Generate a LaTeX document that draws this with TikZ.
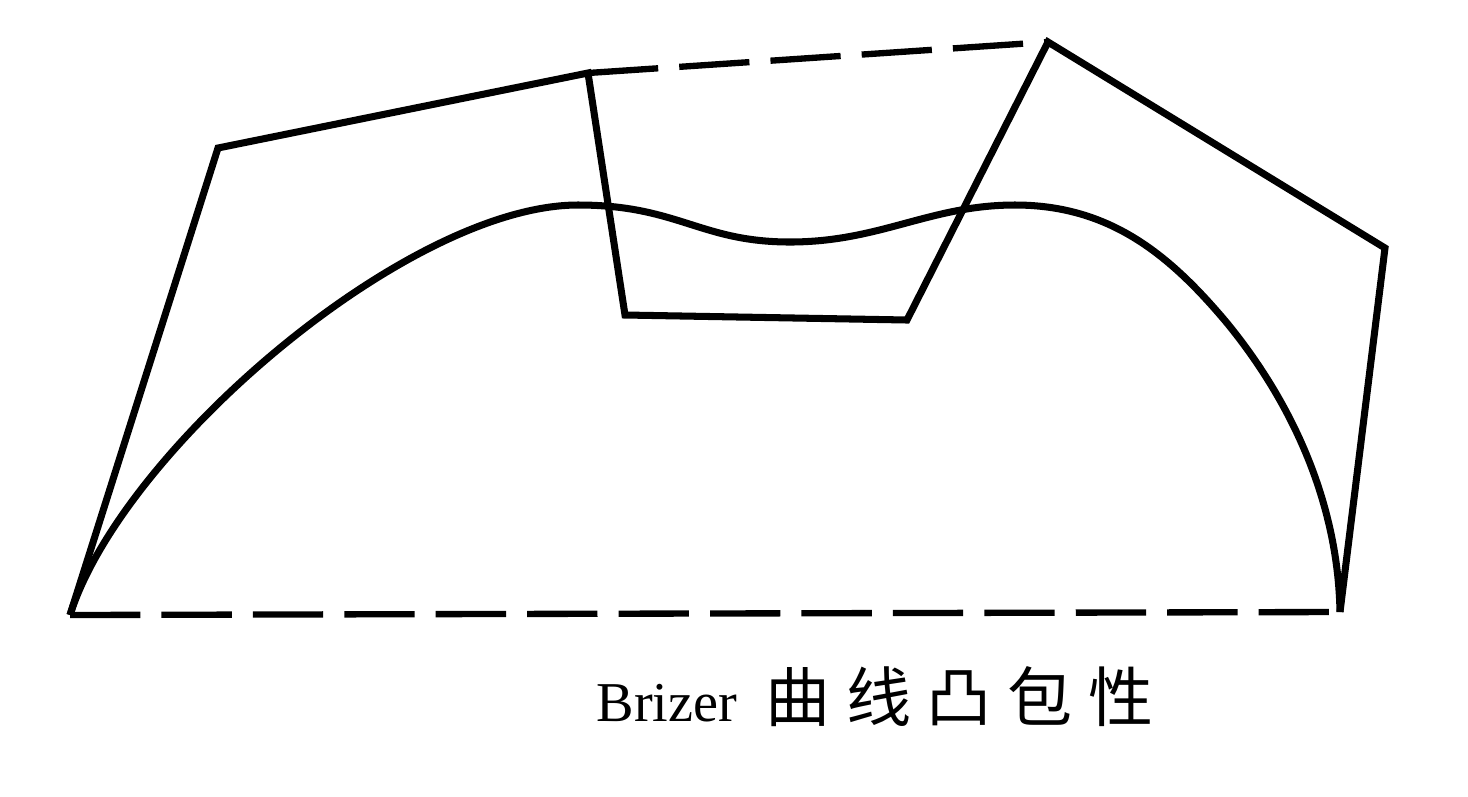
\documentclass[tikz,border=0pt]{standalone}
\usepackage{fontspec}
\setmainfont{Liberation Serif}
\newfontfamily\cjk[LetterSpace=24]{Noto Sans CJK SC}
\begin{document}
\begin{tikzpicture}[x=0.01cm,y=-0.01cm,
  poly/.style={line width=2pt, line join=miter},
  hull/.style={line width=1.8pt, dash pattern=on 20pt off 6pt},
  curve/.style={line width=2pt}]
\useasboundingbox (0,0) rectangle (1468,796);
\coordinate (P0) at (70,615);
\coordinate (P1) at (218,148);
\coordinate (P2) at (588,73);
\coordinate (P3) at (625,315);
\coordinate (P4) at (907,320);
\coordinate (P5) at (1048,42);
\coordinate (P6) at (1385,248);
\coordinate (P7) at (1340,612);
\coordinate (A) at (578,205);
\coordinate (B) at (790,242);
\coordinate (C) at (1015,205);
\coordinate (D) at (1227,323);
\draw[poly] (P0) -- (P1) -- (P2) -- (P3) -- (P4) -- (P5) -- (P6) -- (P7);
\draw[hull] (P2) -- (P5);
\draw[hull] (P0) -- (P7);
\draw[curve] (P0) .. controls (122,450) and (408,205) .. (A)
  .. controls (678,205) and (700,242) .. (B)
  .. controls (880,242) and (930,205) .. (C)
  .. controls (1110,205) and (1170,255) .. (D)
  .. controls (1290,400) and (1338,500) .. (P7);
\node[anchor=base west, inner sep=0pt, font=\fontsize{16}{18}\selectfont] (cap) at (596,721)
  {Brizer\hspace{0.5em}{\cjk\fontsize{18.5}{20}\selectfont 曲线凸包性}};
\end{tikzpicture}
\end{document}
